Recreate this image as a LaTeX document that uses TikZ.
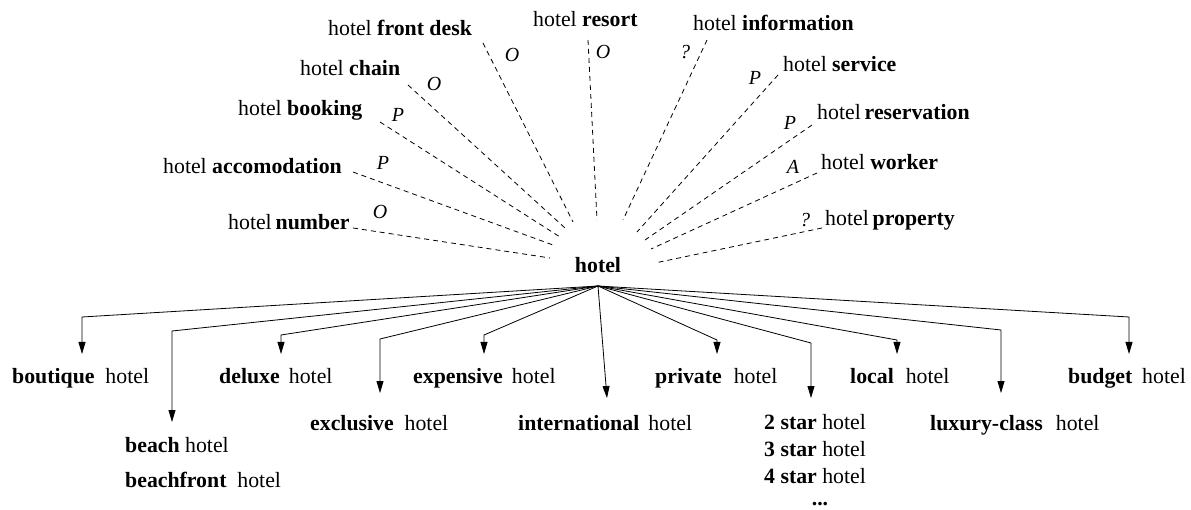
\documentclass[tikz,border=0pt]{standalone}
\usepackage{fontspec}
\setmainfont{Liberation Serif}
\usetikzlibrary{arrows.meta}
\begin{document}
\begin{tikzpicture}[x=1pt,y=-1pt,
  lab/.style={anchor=base west, inner sep=0pt, font=\fontsize{21.8}{26}\selectfont},
  hubstyle/.style={anchor=base, inner sep=0pt, font=\fontsize{21.8}{26}\selectfont\bfseries},
  rel/.style={inner sep=0pt, font=\fontsize{20}{24}\selectfont\itshape},
  dline/.style={dash pattern=on 5pt off 4pt, line width=0.8pt},
  arr/.style={line width=0.8pt, -{Triangle[length=12pt,width=7pt]}}]
\useasboundingbox (0,0) rectangle (1191,510);

% hub
\node[hubstyle] (hub) at (598,273) {hotel};
\coordinate (hs) at (598,286);

% top labels
\node[lab] (fd)  at (328,36)  {hotel \textbf{front desk}};
\node[lab] (ch)  at (300,76)  {hotel \textbf{chain}};
\node[lab] (bk)  at (238,116) {hotel \textbf{booking}};
\node[lab] (ac)  at (163,174) {hotel \textbf{accomodation}};
\node[lab] (nu)  at (228,230) {hotel\hspace{0.18em}\textbf{number}};
\node[lab] (rs)  at (533,27)  {hotel \textbf{resort}};
\node[lab] (in)  at (693,31)  {hotel \textbf{information}};
\node[lab] (sv)  at (783,72)  {hotel \textbf{service}};
\node[lab] (rv)  at (817,120) {hotel\hspace{0.18em}\textbf{reservation}};
\node[lab] (wk)  at (821,170) {hotel \textbf{worker}};
\node[lab] (pr)  at (825,226) {hotel\hspace{0.18em}\textbf{property}};

% relation marks
\node[rel] (rfd) at (512,55)  {O};
\node[rel] (rch) at (434,84)  {O};
\node[rel] (rbk) at (398,115) {P};
\node[rel] (rac) at (383,163) {P};
\node[rel] (rnu) at (380,212) {O};
\node[rel] (rrs) at (603,52)  {O};
\node[rel] (rin) at (685,52)  {?};
\node[rel] (rsv) at (755,78)  {P};
\node[rel] (rrv) at (790,123) {P};
\node[rel] (rwk) at (793,167) {A};
\node[rel] (rpr) at (805,220) {?};

% dashed line end points
\coordinate (sfd) at (483,43);  \coordinate (efd) at (573,222);
\coordinate (sch) at (408,85);  \coordinate (ech) at (565,228);
\coordinate (sbk) at (380,122); \coordinate (ebk) at (560,237);
\coordinate (sac) at (353,172); \coordinate (eac) at (553,245);
\coordinate (snu) at (353,228); \coordinate (enu) at (550,258);
\coordinate (srs) at (588,40);  \coordinate (ers) at (597,220);
\coordinate (sin) at (707,40);  \coordinate (ein) at (623,220);
\coordinate (ssv) at (778,75);  \coordinate (esv) at (637,232);
\coordinate (srv) at (812,125); \coordinate (erv) at (645,240);
\coordinate (swk) at (817,173); \coordinate (ewk) at (651,249);
\coordinate (spr) at (822,228); \coordinate (epr) at (655,263);

\foreach \k in {fd,ch,bk,ac,nu,rs,in,sv,rv,wk,pr}
  \draw[dline] (s\k) -- (e\k);

% bottom labels
\node[lab] (bo) at (12,384)   {\textbf{boutique}\hspace{0.5em}hotel};
\node[lab] (be) at (125,452)  {\textbf{beach} hotel};
\node[lab] (bf) at (125,487)  {\textbf{beachfront}\hspace{0.5em}hotel};
\node[lab] (de) at (219,384)  {\textbf{deluxe}\hspace{0.42em}hotel};
\node[lab] (ex) at (310,430)  {\textbf{exclusive}\hspace{0.5em}hotel};
\node[lab] (ep) at (413,384)  {\textbf{expensive}\hspace{0.42em}hotel};
\node[lab] (it) at (518,430)  {\textbf{international}\hspace{0.42em}hotel};
\node[lab] (pv) at (655,384)  {\textbf{private}\hspace{0.55em}hotel};
\node[lab] (s2) at (764,429)  {\textbf{2 star} hotel};
\node[lab] (s3) at (764,456)  {\textbf{3 star} hotel};
\node[lab] (s4) at (764,483)  {\textbf{4 star} hotel};
\node[anchor=base, inner sep=0pt, font=\fontsize{21.8}{26}\selectfont\bfseries] (dots) at (820,505) {...};
\node[lab] (lo) at (850,384)  {\textbf{local}\hspace{0.55em}hotel};
\node[lab] (lx) at (930,430)  {\textbf{luxury-class}\hspace{0.6em}hotel};
\node[lab] (bu) at (1068,384) {\textbf{budget}\hspace{0.45em}hotel};

% arrow corners and tips
\coordinate (cbo) at (82,317);   \coordinate (tbo) at (82,354);
\coordinate (cbe) at (172,331);  \coordinate (tbe) at (172,422);
\coordinate (cde) at (281,335);  \coordinate (tde) at (281,354);
\coordinate (cex) at (380,339);  \coordinate (tex) at (380,393);
\coordinate (cep) at (484,335);  \coordinate (tep) at (484,354);
\coordinate (tit) at (607,398);
\coordinate (cpv) at (717,340);  \coordinate (tpv) at (717,354);
\coordinate (cs2) at (811,343);  \coordinate (ts2) at (811,398);
\coordinate (clo) at (897,340);  \coordinate (tlo) at (897,354);
\coordinate (clx) at (1001,330); \coordinate (tlx) at (1001,393);
\coordinate (cbu) at (1129,317); \coordinate (tbu) at (1129,354);

\foreach \k in {bo,be,de,ex,ep,pv,s2,lo,lx,bu}
  \draw[arr] (hs) -- (c\k) -- (t\k);
\draw[arr] (hs) -- (tit);
\end{tikzpicture}
\end{document}
